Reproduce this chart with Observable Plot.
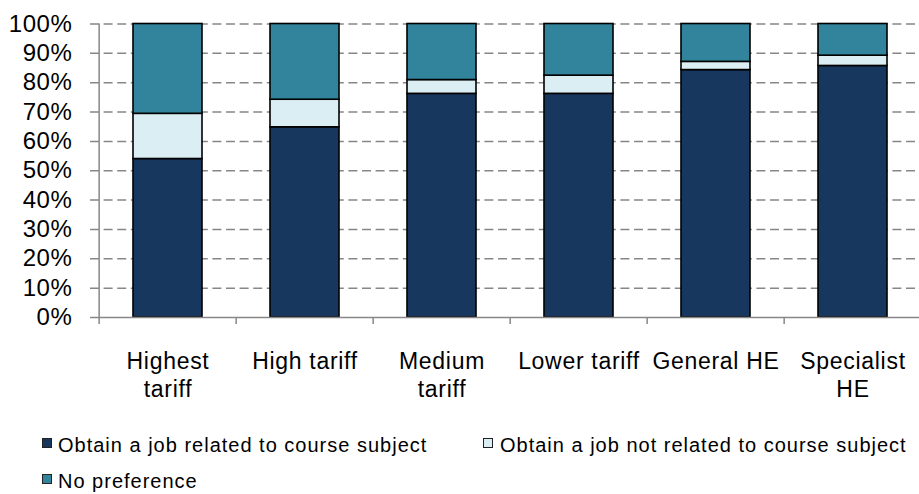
<!DOCTYPE html>
<html>
<head>
<meta charset="utf-8">
<script src="https://cdn.jsdelivr.net/npm/d3@7"></script>
<script src="https://cdn.jsdelivr.net/npm/@observablehq/plot@0.6"></script>
<style>
  html, body { margin: 0; padding: 0; background: #fff; }
  body { width: 919px; height: 494px; overflow: hidden; font-family: "Liberation Sans", Arial, sans-serif; color: #000; }
  #chart svg { display: block; }
  #legend { position: relative; height: 66px; font-size: 20px; letter-spacing: 1px; }
  .item { position: absolute; line-height: 24px; white-space: nowrap; }
  .sw { position: absolute; top: 5px; width: 8px; height: 8px; border: 1px solid #222; }
  .lbl { position: absolute; top: 0; }
</style>
</head>
<body>
<div id="chart"></div>
<div id="legend"></div>
<script>
const categories = ["Highest tariff", "High tariff", "Medium tariff", "Lower tariff", "General HE", "Specialist HE"];
const tickLabels = ["Highest\ntariff", "High tariff", "Medium\ntariff", "Lower tariff", "General HE", "Specialist\nHE"];
const series = ["Obtain a job related to course subject", "Obtain a job not related to course subject", "No preference"];
const related = [54.0, 64.8, 76.2, 76.2, 84.3, 85.7];
const notRelated = [15.4, 9.4, 4.7, 6.2, 2.8, 3.5];
const noPreference = [30.6, 25.8, 19.1, 17.6, 12.9, 10.8];
const colors = ["#17375e", "#daeef3", "#31849b"];
const yTicks = [0, 10, 20, 30, 40, 50, 60, 70, 80, 90, 100];

const valuesBySeries = [related, notRelated, noPreference];
const rows = [];
categories.forEach((c, i) => {
  series.forEach((s, j) => rows.push({category: c, series: s, value: valuesBySeries[j][i]}));
});

const W = 919, H = 428;
const xRange = [97, 923.2];
const step = (xRange[1] - xRange[0]) / categories.length;
const axisColor = "#878787";

const svg = Plot.plot({
  width: W,
  height: H,
  marginLeft: 90,
  marginRight: 0,
  marginTop: 23.5,
  marginBottom: 111,
  style: {background: "#fff", color: "#000", fontFamily: "'Liberation Sans', Arial, sans-serif"},
  x: {type: "band", domain: categories, range: xRange, paddingInner: 0.5, paddingOuter: 0.25, axis: null},
  y: {domain: [0, 100], axis: null},
  color: {domain: series, range: colors},
  marks: [
    Plot.ruleY(yTicks.filter(t => t > 0), {stroke: axisColor, strokeWidth: 1.5, strokeDasharray: "9,4.6"}),
    Plot.barY(rows, {x: "category", y: "value", fill: "series", stroke: "#000", strokeWidth: 1.6}),
    Plot.ruleY([0], {stroke: axisColor, strokeWidth: 1.5}),
    Plot.ruleX([categories[0]], {x: d => d, dx: -step / 2, y1: 0, y2: 100, stroke: axisColor, strokeWidth: 1.5}),
    Plot.ruleX(categories, {x: d => d, dx: -step / 2, y1: -2.4, y2: 0, stroke: axisColor, strokeWidth: 1.5}),
    Plot.text(yTicks, {y: d => d, text: d => d + "%", frameAnchor: "left", textAnchor: "end", dx: -18, fontSize: 24, fill: "#000"}),
    Plot.text(categories, {x: d => d, text: (d, i) => tickLabels[i], frameAnchor: "bottom", lineAnchor: "top", dy: 32.2, fontSize: 23, lineHeight: 1.21, fill: "#000"})
  ]
});

const textGroups = svg.querySelectorAll('g[aria-label="text"]');
if (textGroups[0]) textGroups[0].style.letterSpacing = "0.6px";
if (textGroups[1]) textGroups[1].style.letterSpacing = "0.7px";
document.getElementById("chart").appendChild(svg);

// legend
const legendPos = [
  {left: 42, top: 4.8, textLeft: 16},
  {left: 483, top: 4.8, textLeft: 17},
  {left: 42, top: 40.6, textLeft: 16}
];
const legend = document.getElementById("legend");
series.forEach((s, i) => {
  const p = legendPos[i];
  const item = document.createElement("div");
  item.className = "item";
  item.style.left = p.left + "px";
  item.style.top = p.top + "px";
  const sw = document.createElement("span");
  sw.className = "sw";
  sw.style.left = "0px";
  sw.style.background = colors[i];
  const lbl = document.createElement("span");
  lbl.className = "lbl";
  lbl.style.left = p.textLeft + "px";
  lbl.textContent = s;
  item.appendChild(sw);
  item.appendChild(lbl);
  legend.appendChild(item);
});
</script>
</body>
</html>
